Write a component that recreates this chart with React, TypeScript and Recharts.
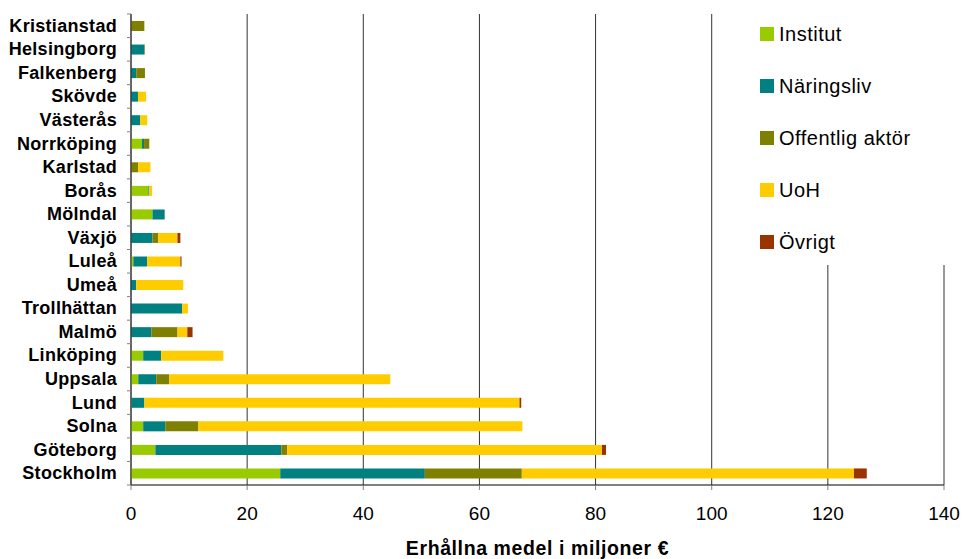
import { BarChart, Bar, XAxis, YAxis, CartesianGrid, Legend } from 'recharts';

// cities from top to bottom
const cities = [
  'Kristianstad', 'Helsingborg', 'Falkenberg', 'Skövde', 'Västerås',
  'Norrköping', 'Karlstad', 'Borås', 'Mölndal', 'Växjö',
  'Luleå', 'Umeå', 'Trollhättan', 'Malmö', 'Linköping',
  'Uppsala', 'Lund', 'Solna', 'Göteborg', 'Stockholm',
];

// millions of euro per source
const institut = [0, 0, 0, 0, 0, 1.9, 0, 3.0, 3.7, 0, 0.4, 0, 0, 0, 2.1, 1.25, 0.1, 2.1, 4.2, 25.7];
const naringsliv = [0, 2.3, 0.9, 1.2, 1.6, 0.35, 0, 0.15, 2.1, 3.7, 2.4, 0.9, 8.8, 3.5, 3.1, 3.1, 2.2, 3.8, 21.7, 24.9];
const offentlig = [2.3, 0.1, 1.5, 0, 0, 0.9, 1.25, 0, 0, 1.0, 0, 0, 0, 4.5, 0, 2.2, 0, 5.7, 1.0, 16.7];
const uoh = [0, 0, 0, 1.4, 1.2, 0, 2.1, 0.5, 0, 3.3, 5.7, 8.1, 1.0, 1.7, 10.7, 38.1, 64.6, 55.8, 54.2, 57.2];
const ovrigt = [0, 0, 0, 0, 0, 0, 0, 0, 0, 0.5, 0.2, 0, 0, 0.9, 0, 0, 0.3, 0, 0.7, 2.2];

const xTicks = [0, 20, 40, 60, 80, 100, 120, 140];

const series = [
  { key: 'Institut', values: institut, color: '#99CC00' },
  { key: 'Näringsliv', values: naringsliv, color: '#008080' },
  { key: 'Offentlig aktör', values: offentlig, color: '#808000' },
  { key: 'UoH', values: uoh, color: '#FFCC00' },
  { key: 'Övrigt', values: ovrigt, color: '#993300' },
];

const data = cities.map((city, i) => {
  const row: Record<string, string | number> = { city };
  series.forEach((s) => {
    row[s.key] = s.values[i];
  });
  return row;
});

const PLOT_TOP = 14;
const PLOT_BOTTOM = 485;
const BAND = (PLOT_BOTTOM - PLOT_TOP) / cities.length;
const FONT = '"Liberation Sans", Arial, sans-serif';

const CityTick = ({ x, y, payload, index }: any) => (
  <g>
    <text
      x={x}
      y={y}
      dy={6}
      textAnchor="end"
      fontFamily={FONT}
      fontWeight="bold"
      fontSize={18}
      letterSpacing={0.3}
      fill="#000"
    >
      {payload.value}
    </text>
    <line x1={x + 10} x2={x + 14} y1={y - BAND / 2} y2={y - BAND / 2} stroke="#808080" />
    {index === cities.length - 1 && (
      <line x1={x + 10} x2={x + 14} y1={y + BAND / 2} y2={y + BAND / 2} stroke="#808080" />
    )}
  </g>
);

const renderLegend = () => (
  <div style={{ paddingTop: 8, paddingLeft: 40 }}>
    {series.map((s) => (
      <div
        key={s.key}
        style={{
          height: 52,
          display: 'flex',
          alignItems: 'center',
          fontFamily: FONT,
          fontSize: 20,
          letterSpacing: 0.5,
          color: '#000',
        }}
      >
        <span
          style={{ width: 14, height: 14, background: s.color, display: 'inline-block', marginRight: 5 }}
        />
        {s.key}
      </div>
    ))}
  </div>
);

export default function App() {
  return (
    <div style={{ position: 'absolute', left: 0, top: 0, background: '#fff' }}>
      <BarChart
        width={964}
        height={559}
        data={data}
        layout="vertical"
        barSize={10}
        margin={{ top: PLOT_TOP, right: 20, bottom: 0, left: 0 }}
      >
        <CartesianGrid horizontal={false} stroke="#333" />
        <XAxis
          type="number"
          domain={[0, 140]}
          ticks={xTicks}
          height={74}
          tickSize={5}
          tickMargin={17}
          stroke="#000"
          tickLine={{ stroke: '#808080' }}
          tick={{ fill: '#000', fontSize: 19, fontFamily: FONT }}
          label={{
            value: 'Erhållna medel i miljoner €',
            position: 'insideBottom',
            offset: 4,
            fill: '#000',
            fontSize: 19.5,
            fontWeight: 'bold',
            fontFamily: FONT,
            letterSpacing: 0.6,
          }}
        />
        <YAxis
          type="category"
          dataKey="city"
          width={131}
          interval={0}
          stroke="#333"
          tickLine={false}
          tickSize={6}
          tickMargin={8}
          tick={<CityTick />}
        />
        <Legend
          layout="vertical"
          align="center"
          verticalAlign="middle"
          content={renderLegend}
          wrapperStyle={{ position: 'absolute', left: 720, top: 0, width: 244, height: 265, background: '#fff' }}
        />
        {series.map((s) => (
          <Bar key={s.key} dataKey={s.key} stackId="a" fill={s.color} isAnimationActive={false} />
        ))}
      </BarChart>
    </div>
  );
}
